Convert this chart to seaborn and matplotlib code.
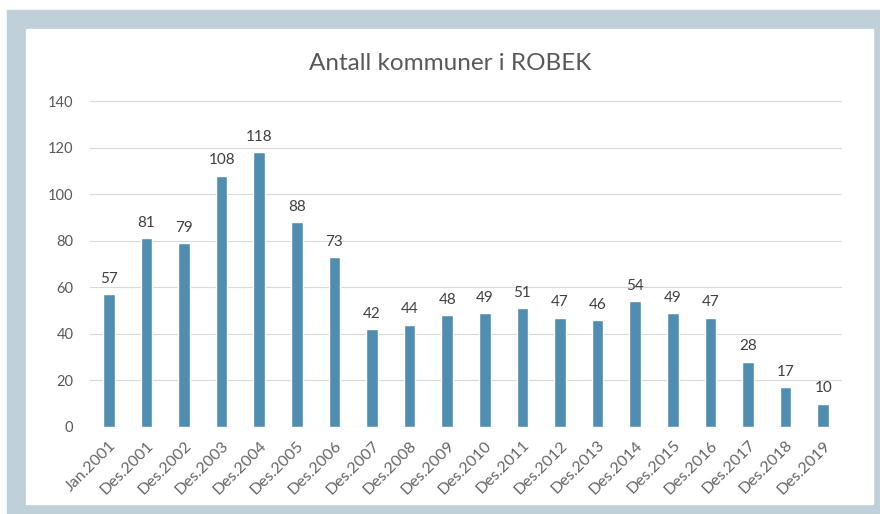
import matplotlib.pyplot as plt
import matplotlib.patches as mpatches
import pandas as pd
import seaborn as sns

# Data
labels = ['Jan.2001', 'Des.2001', 'Des.2002', 'Des.2003', 'Des.2004', 'Des.2005',
          'Des.2006', 'Des.2007', 'Des.2008', 'Des.2009', 'Des.2010', 'Des.2011',
          'Des.2012', 'Des.2013', 'Des.2014', 'Des.2015', 'Des.2016', 'Des.2017',
          'Des.2018', 'Des.2019']
values = [57, 81, 79, 108, 118, 88, 73, 42, 44, 48, 49, 51, 47, 46, 54, 49, 47, 28, 17, 10]
yticks = [0, 20, 40, 60, 80, 100, 120, 140]

df = pd.DataFrame({'periode': labels, 'antall': values})

sns.set_theme(style='white')
plt.rcParams['font.family'] = ['Lato', 'DejaVu Sans']
text_col = '#595959'

fig = plt.figure(figsize=(8.8, 5.14), dpi=100)
fig.patch.set_facecolor('white')

# light blue-grey frame with white inner panel
W, H = 880, 514
fig.patches.append(mpatches.Rectangle((7 / W, 0), 1 - 7 / W, 1 - 10 / H,
                                      transform=fig.transFigure, color='#bfd0d8', zorder=-10))
fig.patches.append(mpatches.Rectangle((26 / W, 10 / H), (873 - 26) / W, (504 - 29) / H,
                                      transform=fig.transFigure, color='white', zorder=-9))

ax = fig.add_axes([90 / W, 1 - 427 / H, (842 - 90) / W, (427 - 101) / H])
ax.set_zorder(5)
ax.set_facecolor('none')

sns.barplot(data=df, x='periode', y='antall', color='#508eb1', width=0.31,
            saturation=1, ax=ax, zorder=3)

ax.set_ylim(0, 140)
ax.set_xlim(-0.5, len(labels) - 0.5)
ax.set_yticks(yticks)
ax.set_axisbelow(True)
ax.yaxis.grid(True, color='#d9d9d9', linewidth=0.8)
ax.xaxis.grid(False)
for s in ax.spines.values():
    s.set_visible(False)
ax.tick_params(axis='both', length=0, colors=text_col)
ax.tick_params(axis='y', labelsize=10.5, pad=12)
ax.tick_params(axis='x', labelsize=11.5, pad=8, labelcolor='#666666')
ax.set_xticks(range(len(labels)))
ax.set_xticklabels(labels, rotation=45, ha='right', rotation_mode='anchor')
ax.set_xlabel('')
ax.set_ylabel('')

for i, v in enumerate(values):
    ax.annotate(str(v), (i, v), xytext=(0, 6), textcoords='offset points',
                ha='center', va='bottom', fontsize=11, color='#404040')

fig.text(450 / W, 1 - 63 / H, 'Antall kommuner i ROBEK', ha='center', va='center',
         fontsize=17.5, color=text_col)

fig.savefig('out.png', dpi=100)
